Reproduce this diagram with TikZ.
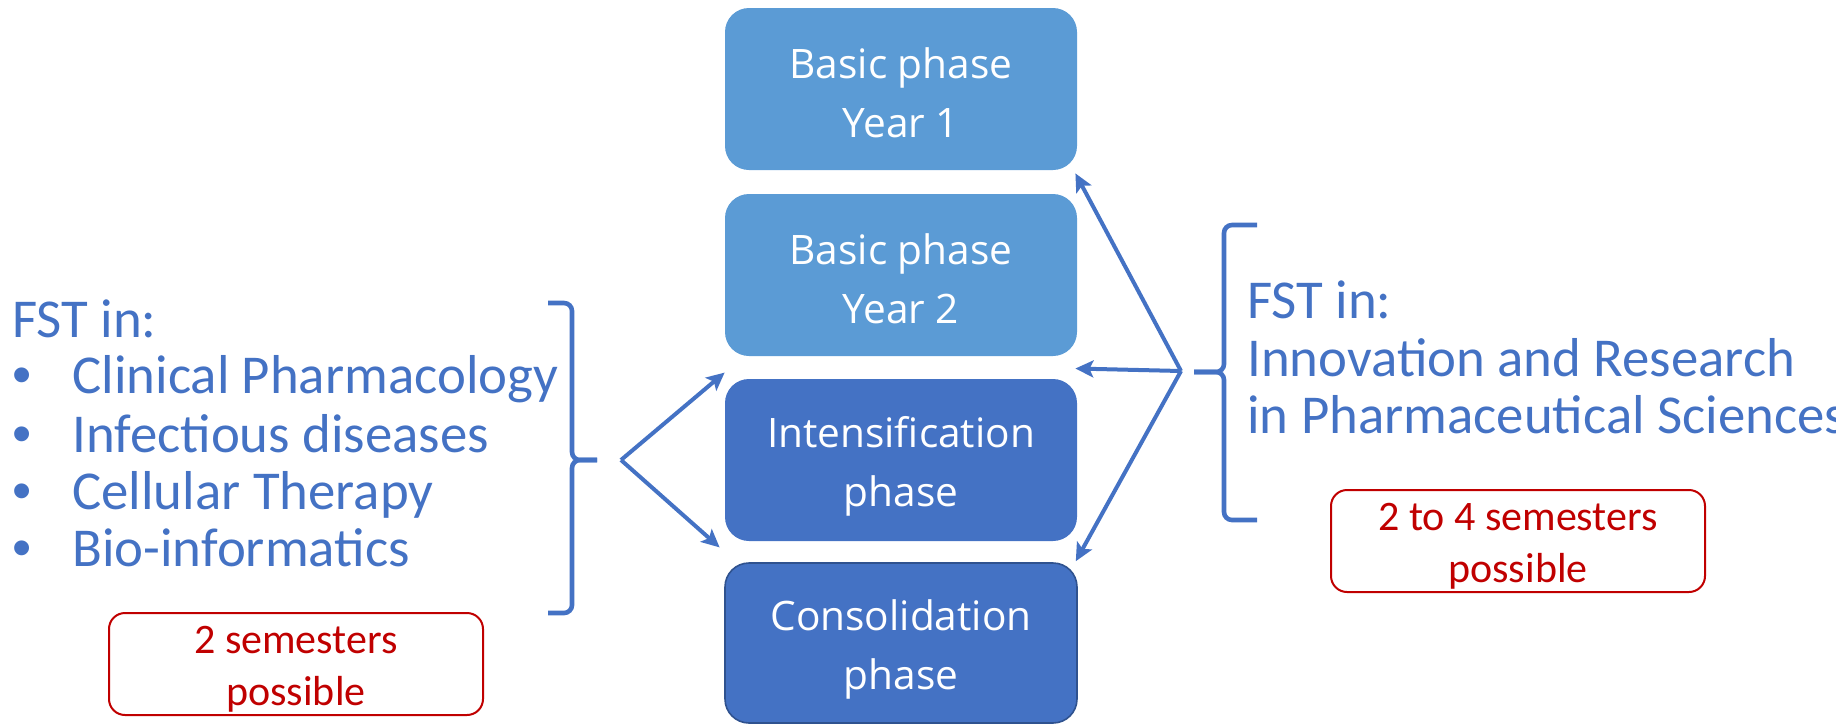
\documentclass[tikz,border=0pt]{standalone}
\usepackage{fontspec}
\setmainfont{Carlito}
\newfontfamily\boxfont{Open Sans}
\newfontfamily\bulfont{Liberation Sans}
\usetikzlibrary{arrows.meta,calc}
\definecolor{accblue}{HTML}{4472C4}
\definecolor{lightblue}{HTML}{5B9BD5}
\definecolor{darkred}{HTML}{C00000}
\definecolor{edgeblue}{HTML}{2F528F}
\newcommand{\blt}{\makebox[30pt][l]{\bulfont •}}
\begin{document}
\begin{tikzpicture}[x=0.5pt,y=-0.5pt,
  phase/.style={rounded corners=12pt, minimum width=176pt, minimum height=81pt, inner sep=0pt,
    text=white, align=center, font=\boxfont\fontsize{20.3}{29.5}\selectfont},
  sidetext/.style={text=accblue, anchor=base west, inner sep=0pt, font=\fontsize{27.4}{28.75}\selectfont},
  notebox/.style={draw=darkred, line width=1pt, rounded corners=8pt, minimum width=187pt, minimum height=51pt,
    inner sep=0pt, text=darkred, align=center, font=\fontsize{21}{26}\selectfont},
  brace/.style={draw=accblue, line width=2.3pt, rounded corners=4pt},
  conn/.style={draw=accblue, line width=2pt, -{Stealth[length=9pt,width=8.5pt,inset=2pt]}}]
\useasboundingbox (0,0) rectangle (1836,723);
\clip (0,0) rectangle (1836,723);
% phase boxes
\node[phase, fill=lightblue] (b1) at (901,89) {\rule{0pt}{19pt}Basic phase\\Year 1};
\node[phase, fill=lightblue] (b2) at (901,275) {\rule{0pt}{19pt}Basic phase\\Year 2};
\node[phase, fill=accblue] (b3) at (901,460) {\rule{0pt}{21.4pt}Intensification\\phase};
\node[phase, fill=accblue, draw=edgeblue, line width=0.8pt, minimum height=80pt] (b4) at (901,643) {\rule{0pt}{21.4pt}Consolidation\\phase};
% left text
\node[sidetext] (lh) at (12,337) {FST in:};
\node[sidetext] (l1) at (12,393) {\blt Clinical Pharmacology};
\node[sidetext] (l2) at (12,452) {\blt Infectious diseases};
\node[sidetext] (l3) at (12,509) {\blt Cellular Therapy};
\node[sidetext] (l4) at (12,566) {\blt Bio-informatics};
% right text
\node[sidetext] (rh) at (1247,318) {FST in:};
\node[sidetext] (r1) at (1247,376) {Innovation and Research};
\node[sidetext] (r2) at (1247,433) {in Pharmaceutical Sciences};
% note boxes
\node[notebox] (nl) at (296,664) {\rule{0pt}{19pt}2 semesters\\possible};
\node[notebox] (nr) at (1518,541) {\rule{0pt}{19pt}2 to 4 semesters\\possible};
% braces
\draw[brace] (548,303) -- (572,303) -- (572,460) -- (597,460);
\draw[brace] (597,460) -- (572,460) -- (572,613) -- (548,613);
\draw[brace] (1257,225) -- (1224,225) -- (1224,372) -- (1194,372);
\draw[brace] (1194,372) -- (1224,372) -- (1224,520) -- (1257,520);
% connectors
\coordinate (jl) at (621,460);
\coordinate (jr) at (1181,371);
\draw[conn] (jl) -- ($(b3.north west)+(0,-6)$);
\draw[conn] (jl) -- ($(b3.south west)+(-5,6)$);
\draw[conn] (jr) -- ($(b1.south east)+(-2,3)$);
\draw[conn] (jr) -- ($(b2.south east)!0.5!(b3.north east)+(-2,1)$);
\draw[conn] (jr) -- ($(b4.north east)+(-2,-1)$);
\end{tikzpicture}
\end{document}
